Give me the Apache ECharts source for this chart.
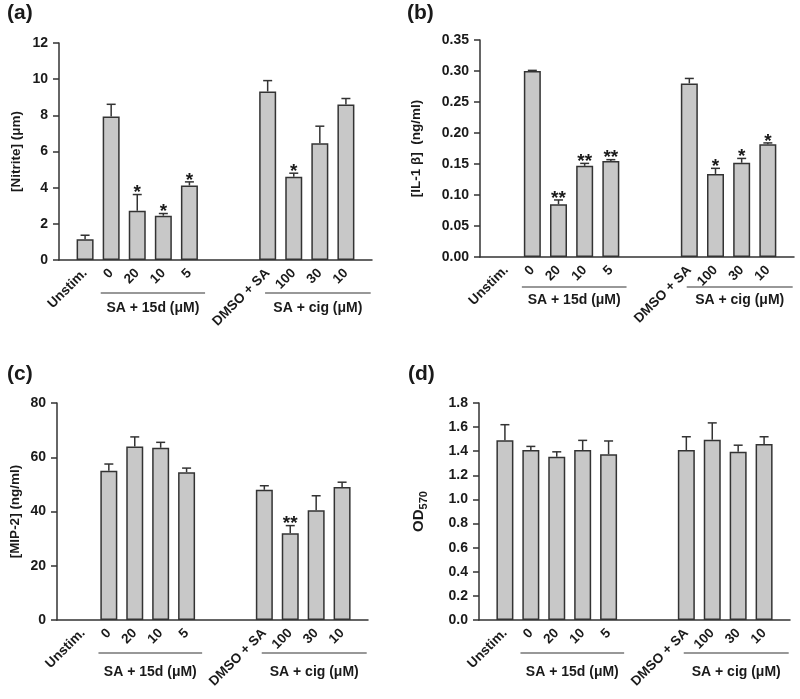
<!DOCTYPE html>
<html><head><meta charset="utf-8">
<script src="https://cdn.jsdelivr.net/npm/echarts@6/dist/echarts.min.js"></script>
<style>html,body{margin:0;padding:0;background:#fff}#c{width:800px;height:699px}</style>
</head><body><div id="c"></div>
<script>
// ---- data ----
const categories = ['', 'Unstim.', '0', '20', '10', '5', '', '', 'DMSO + SA', '100', '30', '10', ''];
const groupLabels = ['SA + 15d (\u03bcM)', 'SA + cig (\u03bcM)'];
const groupSpans = [[1.6, 5.6], [7.9, 11.95]];

const nitriteMean = [null, 1.15, 7.93, 2.72, 2.45, 4.12, null, null, 9.32, 4.60, 6.45, 8.60, null];
const nitriteErr  = [null, 0.22, 0.68, 0.90, 0.12, 0.20, null, null, 0.60, 0.20, 0.95, 0.33, null];
const nitriteSig  = ['', '', '', '*', '*', '*', '', '', '', '*', '', '', ''];
const nitriteTicks = [0, 12, 2];

const il1bMean = [null, null, 0.300, 0.085, 0.147, 0.155, null, null, 0.280, 0.134, 0.152, 0.182, null];
const il1bErr  = [null, null, 0.001, 0.007, 0.004, 0.002, null, null, 0.008, 0.009, 0.007, 0.002, null];
const il1bSig  = ['', '', '', '**', '**', '**', '', '', '', '*', '*', '*', ''];
const il1bTicks = [0, 0.35, 0.05];

const mip2Mean = [null, null, 55.0, 64.0, 63.5, 54.5, null, null, 48.0, 32.0, 40.5, 49.0, null];
const mip2Err  = [null, null, 2.5, 3.5, 2.0, 1.5, null, null, 1.5, 2.8, 5.3, 1.8, null];
const mip2Sig  = ['', '', '', '', '', '', '', '', '', '**', '', '', ''];
const mip2Ticks = [0, 80, 20];

const odMean = [null, 1.49, 1.41, 1.355, 1.41, 1.375, null, null, 1.41, 1.495, 1.395, 1.46, null];
const odErr  = [null, 0.13, 0.03, 0.04, 0.08, 0.11, null, null, 0.11, 0.14, 0.055, 0.06, null];
const odSig  = ['', '', '', '', '', '', '', '', '', '', '', '', ''];
const odTicks = [0, 1.8, 0.2];

// ---- layout / style ----
const FONT = '"Liberation Sans", Arial, sans-serif';
const DARK = '#333333';
const TXT = '#1a1a1a';
const panels = [
  {tag: '(a)', tagPos: [7, 3], grid: {left: 59, top: 43, width: 313, height: 217},
   mean: nitriteMean, err: nitriteErr, sig: nitriteSig, ticks: nitriteTicks, dec: 0,
   yName: '[Nitrite] (\u03bcm)', nameGap: 36, brY: 33, brTextY: 48},
  {tag: '(b)', tagPos: [407, 3], grid: {left: 480, top: 40, width: 314, height: 217},
   mean: il1bMean, err: il1bErr, sig: il1bSig, ticks: il1bTicks, dec: 2,
   yName: '[IL-1 \u03b2]  (ng/ml)', nameGap: 57, brY: 30, brTextY: 43},
  {tag: '(c)', tagPos: [7, 364], grid: {left: 57, top: 403, width: 311, height: 217},
   mean: mip2Mean, err: mip2Err, sig: mip2Sig, ticks: mip2Ticks, dec: 0,
   yName: '[MIP-2] (ng/ml)', nameGap: 35, brY: 33, brTextY: 52},
  {tag: '(d)', tagPos: [408, 364], grid: {left: 479, top: 403, width: 311, height: 217},
   mean: odMean, err: odErr, sig: odSig, ticks: odTicks, dec: 1,
   yName: '{a|OD}{s|570}', nameGap: 50, brY: 33, brTextY: 52}
];

const option = {
  backgroundColor: '#ffffff',
  animation: false,
  textStyle: {fontFamily: FONT},
  title: panels.map(p => ({text: p.tag, left: p.tagPos[0], top: p.tagPos[1], padding: 0,
    textStyle: {fontFamily: FONT, fontWeight: 'bold', fontSize: 21, color: TXT}})),
  grid: panels.map(p => p.grid),
  xAxis: panels.map((p, k) => ({
    type: 'category', gridIndex: k, data: categories, boundaryGap: false,
    axisLine: {lineStyle: {color: DARK, width: 1.5}},
    axisTick: {show: false},
    axisLabel: {interval: 0, rotate: 45, margin: 11, color: TXT, fontWeight: 'bold', fontSize: 13.5, fontFamily: FONT},
    splitLine: {show: false}
  })),
  yAxis: panels.map((p, k) => ({
    type: 'value', gridIndex: k, min: p.ticks[0], max: p.ticks[1], interval: p.ticks[2],
    name: p.yName, nameLocation: 'middle', nameGap: p.nameGap, nameRotate: 90,
    nameTextStyle: {color: TXT, fontWeight: 'bold', fontSize: 13.5, fontFamily: FONT,
      rich: {a: {fontWeight: 'bold', fontSize: 15, fontFamily: FONT, color: TXT},
             s: {fontWeight: 'bold', fontSize: 11, fontFamily: FONT, color: TXT, padding: [9, 0, 0, 0]}}},
    axisLine: {show: true, lineStyle: {color: DARK, width: 1.5}},
    axisTick: {show: true, length: 6, lineStyle: {color: DARK, width: 1.5}},
    axisLabel: {margin: 11, color: TXT, fontWeight: 'bold', fontSize: 14, fontFamily: FONT,
      formatter: v => v.toFixed(p.dec)},
    splitLine: {show: false}
  })),
  series: []
};

panels.forEach((p, k) => {
  option.series.push({
    type: 'bar', xAxisIndex: k, yAxisIndex: k, data: p.mean, barWidth: 17,
    itemStyle: {color: '#c8c8c8', borderColor: DARK, borderWidth: 1.5},
    z: 2
  });
  const ebData = [];
  p.mean.forEach((m, i) => { if (m != null) ebData.push([i, m, m + p.err[i]]); });
  option.series.push({
    type: 'custom', xAxisIndex: k, yAxisIndex: k, data: ebData, z: 3, clip: false,
    renderItem: (params, api) => {
      const i = api.value(0);
      const p0 = api.coord([i, api.value(1)]);
      const p1 = api.coord([i, api.value(2)]);
      const ch = [
        {type: 'line', shape: {x1: p0[0], y1: p0[1], x2: p1[0], y2: p1[1]}, style: {stroke: DARK, lineWidth: 1.5}},
        {type: 'line', shape: {x1: p1[0] - 4.5, y1: p1[1], x2: p1[0] + 4.5, y2: p1[1]}, style: {stroke: DARK, lineWidth: 1.5}}
      ];
      const s = p.sig[i];
      if (s) ch.push({type: 'text', style: {text: s, x: p1[0], y: p1[1] + 8, align: 'center', verticalAlign: 'bottom',
        font: 'bold 19px ' + FONT, fill: TXT}});
      return {type: 'group', children: ch};
    }
  });
  option.series.push({
    type: 'custom', xAxisIndex: k, yAxisIndex: k, clip: false, z: 3,
    data: groupSpans.map(() => [0, 0]),
    renderItem: (params, api) => {
      const o = api.coord([0, 0]);
      const u = api.coord([1, 0])[0] - o[0];
      const sp = groupSpans[params.dataIndex];
      const x1 = o[0] + sp[0] * u, x2 = o[0] + sp[1] * u;
      return {type: 'group', children: [
        {type: 'line', shape: {x1: x1, y1: o[1] + p.brY, x2: x2, y2: o[1] + p.brY}, style: {stroke: DARK, lineWidth: 1.2}},
        {type: 'text', style: {text: groupLabels[params.dataIndex], x: (x1 + x2) / 2, y: o[1] + p.brTextY,
          align: 'center', verticalAlign: 'middle', font: 'bold 14px ' + FONT, fill: TXT}}
      ]};
    }
  });
});

const chart = echarts.init(document.getElementById('c'), null, {renderer: 'canvas'});
chart.setOption(option);
</script></body></html>
